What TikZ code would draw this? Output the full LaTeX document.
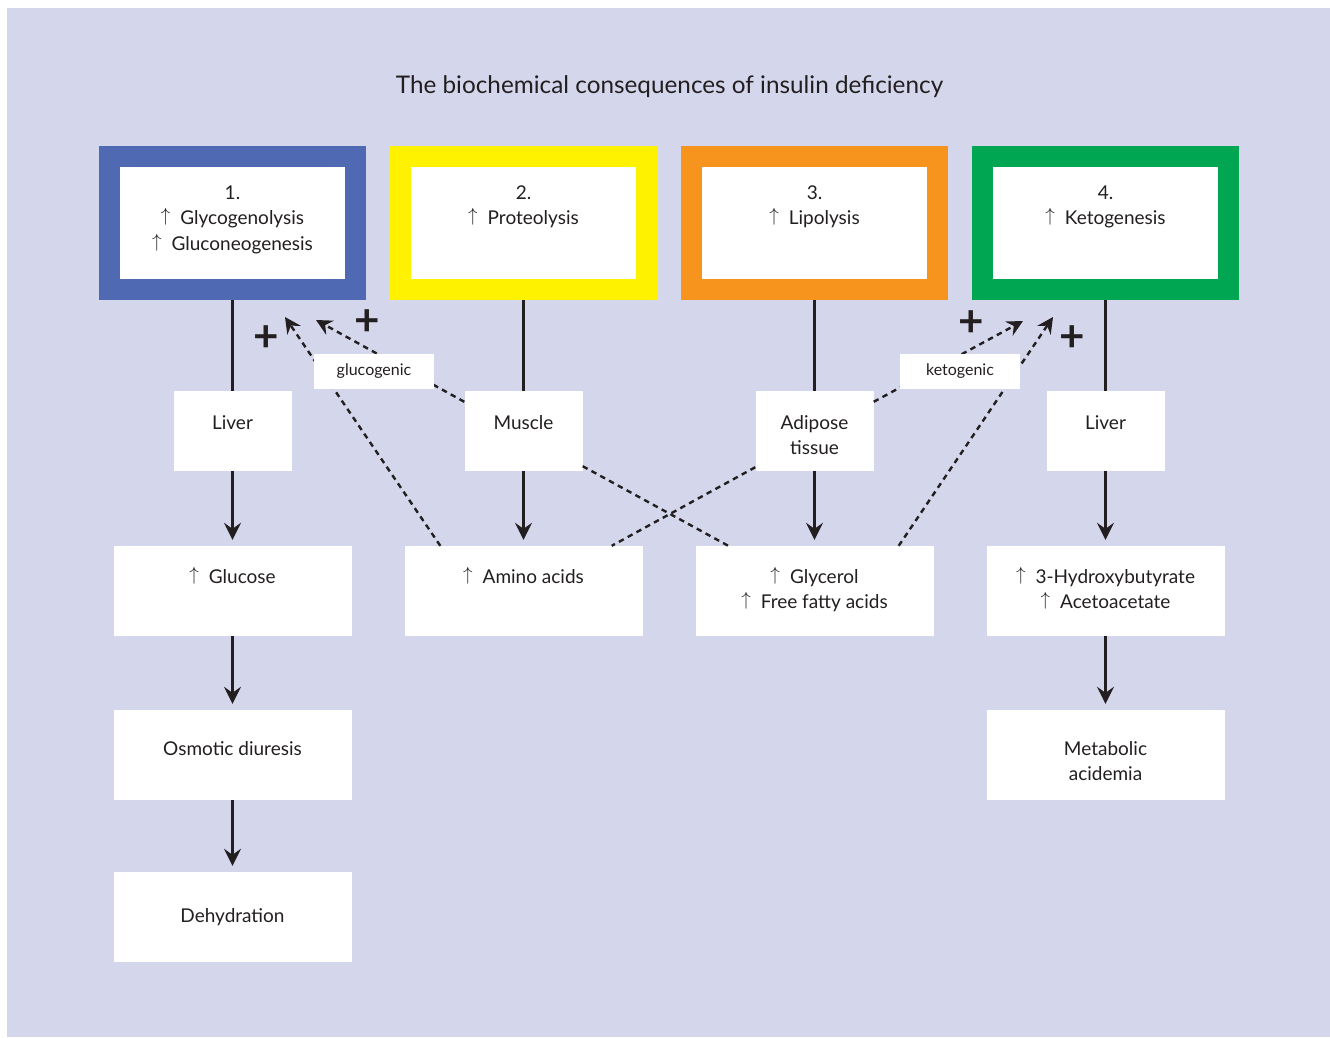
\documentclass[tikz,border=0pt]{standalone}
\usepackage{fontspec}
\setmainfont{Lato}
\usetikzlibrary{arrows.meta}
\definecolor{bg}{HTML}{D4D6EB}
\definecolor{cblue}{HTML}{4F6AB2}
\definecolor{cyellow}{HTML}{FFF200}
\definecolor{corange}{HTML}{F7941E}
\definecolor{cgreen}{HTML}{00A651}
\definecolor{ink}{HTML}{231F20}
\newcommand{\up}{\raisebox{3pt}{\scalebox{1.1}{$\uparrow$}}\hspace{10pt}}
\newcommand{\stk}[1]{\begin{tabular}[t]{@{}c@{}}#1\end{tabular}}
\begin{document}
\begin{tikzpicture}[x=1pt,y=-1pt,
  bigbox/.style={fill=white, line width=21pt, outer sep=10.5pt, inner sep=0pt, minimum width=245.5pt, minimum height=133pt},
  wbox/.style={fill=white, draw=none, inner sep=0pt},
  smallbox/.style={wbox, minimum width=118pt, minimum height=80pt},
  widebox/.style={wbox, minimum width=238pt, minimum height=90pt},
  txt/.style={anchor=base, inner sep=0pt, text=ink, font=\fontsize{19}{25.5}\selectfont},
  link/.style={draw=ink, line width=2.6pt},
  flow/.style={link, -{Stealth[length=17pt,width=17pt,inset=6pt]}, shorten >=6pt},
  dline/.style={draw=ink, line width=2.4pt, dash pattern=on 5.5pt off 4.5pt},
  dtip/.style={dline, -{Stealth[length=16pt,width=16pt,inset=5.5pt]}},
  lbl/.style={fill=white, inner sep=0pt, minimum width=120pt, minimum height=35pt, text=ink, font=\fontsize{16}{16}\selectfont},
  plus/.style={text=ink, font=\fontsize{44}{44}\selectfont\bfseries, inner sep=0pt}
]
\fill[white] (0,0) rectangle (1330,1037);
\fill[bg] (7,8) rectangle (1330,1037);
\useasboundingbox (0,0) rectangle (1330,1037);

\node[txt, font=\fontsize{24.3}{24.3}\selectfont] (title) at (669.5,93) {The biochemical consequences of insulin deficiency};

% coloured boxes
\node[bigbox, draw=cblue]   (b1) at (232.5,223) {};
\node[bigbox, draw=cyellow] (b2) at (523.5,223) {};
\node[bigbox, draw=corange] (b3) at (814.5,223) {};
\node[bigbox, draw=cgreen]  (b4) at (1105.5,223) {};
\node[txt] (b1t) at (232.5,199) {\stk{1.\\ \up Glycogenolysis\\ \up Gluconeogenesis}};
\node[txt] (b2t) at (523.5,199) {\stk{2.\\ \up Proteolysis}};
\node[txt] (b3t) at (814.5,199) {\stk{3.\\ \up Lipolysis}};
\node[txt] (b4t) at (1105.5,199) {\stk{4.\\ \up Ketogenesis}};

% tissues
\node[smallbox] (liver1) at (232.5,431) {};
\node[smallbox] (muscle) at (523.5,431) {};
\node[smallbox] (adipose) at (814.5,431) {};
\node[smallbox] (liver2) at (1105.5,431) {};
\node[txt] (liver1t) at (232.5,429) {Liver};
\node[txt] (musclet) at (523.5,429) {Muscle};
\node[txt] (adiposet) at (814.5,429) {\stk{Adipose\\ tissue}};
\node[txt] (liver2t) at (1105.5,429) {Liver};

% products
\node[widebox] (glucose) at (232.5,591) {};
\node[widebox] (amino) at (523.5,591) {};
\node[widebox] (glycerol) at (814.5,591) {};
\node[widebox] (ketone) at (1105.5,591) {};
\node[txt] (glucoset) at (232.5,583) {\up Glucose};
\node[txt] (aminot) at (523.5,583) {\up Amino acids};
\node[txt] (glycerolt) at (814.5,583) {\stk{\up Glycerol\\ \up Free fatty acids}};
\node[txt] (ketonet) at (1105.5,583) {\stk{\up 3-Hydroxybutyrate\\ \up Acetoacetate}};

\node[widebox] (osmotic) at (232.5,755) {};
\node[widebox] (acid) at (1105.5,755) {};
\node[txt] (osmotict) at (232.5,755) {Osmotic diuresis};
\node[txt] (acidt) at (1105.5,755) {\stk{Metabolic\\ acidemia}};

\node[widebox] (dehyd) at (232.5,917) {};
\node[txt] (dehydt) at (232.5,922) {Dehydration};

% solid connectors
\draw[link] (b1) -- (liver1);
\draw[link] (b2) -- (muscle);
\draw[link] (b3) -- (adipose);
\draw[link] (b4) -- (liver2);
\draw[flow] (liver1) -- (glucose);
\draw[flow] (muscle) -- (amino);
\draw[flow] (adipose) -- (glycerol);
\draw[flow] (liver2) -- (ketone);
\draw[flow] (glucose) -- (osmotic);
\draw[flow] (osmotic) -- (dehyd);
\draw[flow] (ketone) -- (acid);

% dashed connectors
\coordinate (t1) at (285,317);
\coordinate (t2) at (316,320);
\coordinate (t3) at (1023,321);
\coordinate (t4) at (1053,317);
\draw[dtip] ([xshift=36pt]amino.north west) -- (t1);
\draw[dtip] ([yshift=-11pt]muscle.north west) -- (t2);
\draw[dtip] ([yshift=-11pt]adipose.north east) -- (t3);
\draw[dtip] ([xshift=-35pt]glycerol.north east) -- (t4);
\draw[dline] ([yshift=5pt]muscle.south east) -- ([xshift=33pt]glycerol.north west);
\draw[dline] ([yshift=4pt]adipose.south west) -- ([xshift=-31pt]amino.north east);

% labels
\node[lbl] (gluc) at (374,371.5) {glucogenic};
\node[lbl] (keto) at (960,371.5) {ketogenic};
\node[plus] (p1) at (266,339) {+};
\node[plus] (p2) at (367,323) {+};
\node[plus] (p3) at (971,324) {+};
\node[plus] (p4) at (1072,339) {+};
\end{tikzpicture}
\end{document}
